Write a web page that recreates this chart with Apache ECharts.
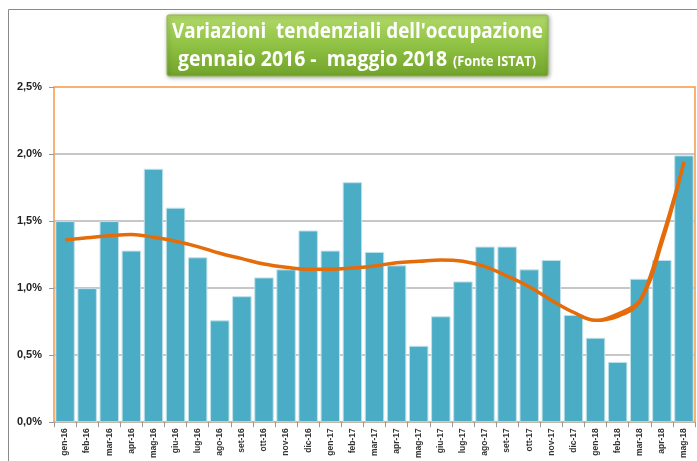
<!DOCTYPE html>
<html><head><meta charset="utf-8">
<script src="https://cdn.jsdelivr.net/npm/echarts@6/dist/echarts.min.js"></script>
<style>html,body{margin:0;padding:0;background:#fff}#c{width:697px;height:461px}</style>
</head><body><div id="c"></div>
<script>
const categories = ['gen-16','feb-16','mar-16','apr-16','mag-16','giu-16','lug-16','ago-16','set-16','ott-16','nov-16','dic-16',
  'gen-17','feb-17','mar-17','apr-17','mag-17','giu-17','lug-17','ago-17','set-17','ott-17','nov-17','dic-17',
  'gen-18','feb-18','mar-18','apr-18','mag-18'];
const occupazione = [1.50,1.00,1.50,1.28,1.89,1.60,1.23,0.76,0.94,1.08,1.14,1.43,
  1.28,1.79,1.27,1.17,0.57,0.79,1.05,1.31,1.31,1.14,1.21,0.80,
  0.63,0.45,1.07,1.21,1.99];
const tendenza = [1.36,1.375,1.39,1.40,1.38,1.35,1.31,1.26,1.22,1.18,1.155,1.14,
  1.14,1.15,1.165,1.19,1.20,1.21,1.20,1.16,1.09,1.01,0.91,0.82,
  0.76,0.79,0.90,1.34,1.94];
const tendenzaBis = [null,null,null,null,null,null,null,null,null,null,null,null,
  null,null,null,null,null,null,null,null,null,null,null,0.82,
  0.76,0.81,0.91,1.38,1.94];
const yTickValues = [0, 0.5, 1.0, 1.5, 2.0, 2.5];
const titleLine1 = "Variazioni  tendenziali dell'occupazione";
const titleLine2 = "gennaio 2016 -  maggio 2018";
const titleSource = "(Fonte ISTAT)";

function measure(text, font) {
  const ctx = document.createElement('canvas').getContext('2d');
  ctx.font = font;
  return ctx.measureText(text).width;
}
function fitText(text, font, x, y, width) {
  const w = measure(text, font);
  return {
    type: 'text', x: x, y: y, scaleX: width / w, z: 20,
    style: { text: text, x: 0, y: 0, font: font, fill: '#ffffff', textAlign: 'left', textVerticalAlign: 'middle' }
  };
}
const fontBig = 'bold 22px "Open Sans", sans-serif';
const fontSmall = 'bold 14px "Open Sans", sans-serif';

const chart = echarts.init(document.getElementById('c'));
chart.setOption({
  animation: false,
  backgroundColor: '#ffffff',
  grid: { left: 54, top: 87, right: 2, bottom: 34, show: true, borderColor: '#F79646', borderWidth: 1.5, backgroundColor: 'transparent' },
  xAxis: {
    type: 'category', data: categories,
    axisLine: { show: false },
    axisTick: { show: true, alignWithLabel: false, length: 5, lineStyle: { color: '#999' } },
    axisLabel: { interval: 0, rotate: 90, fontSize: 8.5, fontWeight: 'bold', color: '#333', margin: 6, fontFamily: 'Liberation Sans, Arial, sans-serif' }
  },
  yAxis: {
    type: 'value', min: 0, max: 2.5, interval: 0.5,
    axisLine: { show: false },
    axisTick: { show: true, length: 5, lineStyle: { color: '#999' } },
    splitLine: { show: true, showMaxLine: false, lineStyle: { color: '#B5B5B5', width: 1.5 } },
    axisLabel: {
      margin: 12, fontSize: 11, fontWeight: 'bold', color: '#222', fontFamily: 'Liberation Sans, Arial, sans-serif',
      formatter: v => (yTickValues.indexOf(v) >= 0 ? v.toFixed(1).replace('.', ',') + '%' : '')
    }
  },
  series: [
    {
      type: 'bar', data: occupazione, barCategoryGap: '12%',
      itemStyle: { color: '#4BACC6', borderColor: '#BFE1EA', borderWidth: 1 }
    },
    {
      type: 'line', data: tendenza, smooth: 0.4, symbol: 'none', z: 5,
      lineStyle: { color: '#E46C0A', width: 3.5 }
    },
    {
      type: 'line', data: tendenzaBis, smooth: 0.3, symbol: 'none', z: 5,
      lineStyle: { color: '#E46C0A', width: 2.5 }
    }
  ],
  graphic: [
    { type: 'rect', z: 1, shape: { x: 8.5, y: 9.5, width: 700, height: 460 }, style: { fill: 'none', stroke: '#8a8a8a', lineWidth: 1 } },
    {
      type: 'rect', z: 10, shape: { x: 167, y: 15, width: 381, height: 61, r: 2 },
      style: {
        fill: new echarts.graphic.LinearGradient(0, 0, 0, 1, [
          { offset: 0, color: '#B3D96A' }, { offset: 0.45, color: '#92C447' }, { offset: 1, color: '#72A32A' }
        ]),
        stroke: '#8FB84A', lineWidth: 1,
        shadowBlur: 4, shadowColor: 'rgba(0,0,0,0.35)', shadowOffsetX: 1, shadowOffsetY: 1
      }
    },
    fitText(titleLine1, fontBig, 172, 32, 371),
    fitText(titleLine2, fontBig, 178, 60, 269),
    fitText(titleSource, fontSmall, 453, 62, 83)
  ]
});
</script>
</body></html>
